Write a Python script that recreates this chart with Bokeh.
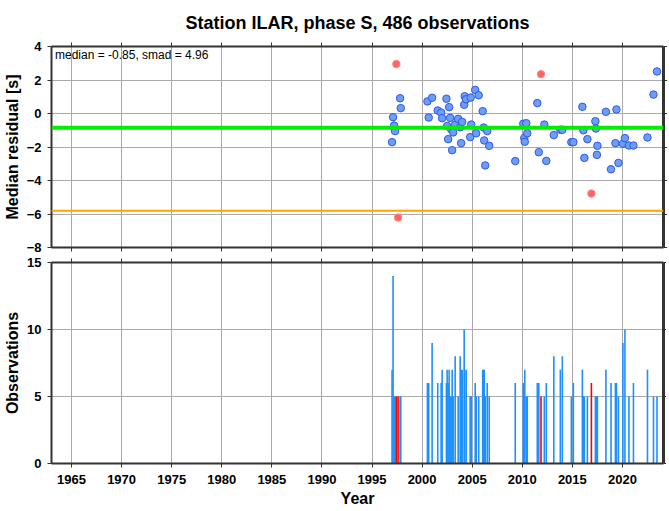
from bokeh.plotting import figure
from bokeh.models import Range1d, LinearAxis, FixedTicker, Label, Span, ColumnDataSource
from bokeh.layouts import column
from bokeh.embed import file_html
from bokeh.resources import INLINE

title_text = "Station ILAR, phase S, 486 observations"
stats_text = "median = -0.85, smad = 4.96"
median_val = -0.85
lower_val = -5.81
year_ticks = [1965, 1970, 1975, 1980, 1985, 1990, 1995, 2000, 2005, 2010, 2015, 2020]
resid_ticks = [-8, -6, -4, -2, 0, 2, 4]
obs_ticks = [0, 5, 10, 15]

event_year = [1997.00, 1997.10, 1997.20, 1997.30, 1997.43, 1997.60, 1997.80, 1997.87,
              2000.53, 2000.66, 2001.00, 2001.56, 2001.90, 2002.00, 2002.43, 2002.50,
              2002.60, 2002.70, 2002.80, 2002.90, 2003.00, 2003.10, 2003.30, 2003.60,
              2003.80, 2003.90, 2004.00, 2004.20, 2004.25, 2004.40, 2004.80, 2004.85,
              2004.90, 2005.30, 2005.40, 2005.65, 2006.05, 2006.15, 2006.20, 2006.30,
              2006.50, 2006.70, 2009.30, 2010.10, 2010.20, 2010.25, 2010.40, 2010.50,
              2011.50, 2011.65, 2011.87, 2012.20, 2012.40, 2013.15, 2013.80, 2014.00,
              2014.90, 2015.10, 2016.00, 2016.10, 2016.20, 2016.50, 2016.90, 2017.30,
              2017.35, 2017.45, 2017.50, 2018.35, 2018.86, 2019.30, 2019.40, 2019.60,
              2020.05, 2020.25, 2020.65, 2021.10, 2022.50, 2023.10, 2023.45]
event_resid = [-1.71, -0.22, -0.72, -1.05, 2.95, -6.21, 0.91, 0.32,
               0.72, -0.24, 0.94, 0.18, 0.06, -0.28, 0.88, -0.74,
               -1.53, 0.38, -0.26, -0.94, -2.19, -1.13, -0.66, -0.32,
               -0.82, -1.77, -0.50, 0.52, 1.03, 0.85, -1.41, 0.95,
               -0.66, 1.41, -1.18, 1.09, 0.14, -0.84, -1.61, -3.10,
               -1.05, -1.93, -2.84, -0.61, -1.47, -1.69, -0.58, -1.18,
               0.62, -2.31, 2.35, -0.66, -2.83, -1.29, -0.97, -0.97,
               -1.71, -1.71, 0.40, -1.00, -2.65, -1.53, -4.78, -0.46,
               -0.90, -2.47, -1.93, 0.10, -3.33, -1.77, 0.24, -2.95,
               -1.81, -1.47, -1.91, -1.91, -1.43, 1.13, 2.51]
event_nobs = [7, 14, 5, 5, 5, 5, 5, 5,
              6, 6, 9, 6, 6, 7, 6, 7,
              6, 7, 5, 5, 7, 5, 8, 5,
              8, 7, 7, 10, 7, 7, 5, 5,
              5, 6, 5, 5, 7, 7, 7, 5,
              6, 5, 6, 6, 5, 7, 5, 5,
              6, 6, 5, 5, 6, 8, 7, 8,
              5, 6, 7, 5, 5, 5, 6, 5,
              5, 5, 5, 7, 6, 6, 6, 5,
              9, 10, 5, 6, 7, 5, 5]
event_outlier = [0, 0, 0, 0, 1, 1, 0, 0,
                 0, 0, 0, 0, 0, 0, 0, 0,
                 0, 0, 0, 0, 0, 0, 0, 0,
                 0, 0, 0, 0, 0, 0, 0, 0,
                 0, 0, 0, 0, 0, 0, 0, 0,
                 0, 0, 0, 0, 0, 0, 0, 0,
                 0, 0, 1, 0, 0, 0, 0, 0,
                 0, 0, 0, 0, 0, 0, 1, 0,
                 0, 0, 0, 0, 0, 0, 0, 0,
                 0, 0, 0, 0, 0, 0, 0]

def subset(flag):
    idx = [i for i, f in enumerate(event_outlier) if f == flag]
    return ColumnDataSource(dict(
        year=[event_year[i] for i in idx],
        resid=[event_resid[i] for i in idx],
        nobs=[event_nobs[i] for i in idx],
    ))

good_src = subset(0)
bad_src = subset(1)

FONT = "Liberation Sans"
AX_COL = "#333333"
GRID_COL = "#AAAAAA"
X0, X1 = 1963.0, 2024.1


def hide_labels(a):
    a.major_label_text_color = None
    a.major_label_text_font_size = "1px"
    a.major_label_standoff = 0


def style(p, yticks, show_xlabels, ylabel):
    p.outline_line_color = None
    p.xgrid.ticker = FixedTicker(ticks=year_ticks)
    p.ygrid.ticker = FixedTicker(ticks=yticks)
    for g in (p.xgrid, p.ygrid):
        g.grid_line_color = GRID_COL
        g.grid_line_width = 1
    xa = p.xaxis[0]
    ya = p.yaxis[0]
    xa.ticker = FixedTicker(ticks=year_ticks)
    ya.ticker = FixedTicker(ticks=yticks)
    for a in (xa, ya):
        a.axis_line_color = AX_COL
        a.axis_line_width = 2
        a.major_tick_line_color = AX_COL
        a.major_tick_out = 4
        a.major_tick_in = 0
        a.minor_tick_line_color = None
        a.major_label_text_font = FONT
        a.major_label_text_font_style = "bold"
        a.major_label_text_font_size = "13px"
        a.major_label_text_color = "black"
        a.major_label_standoff = 6
        a.axis_label_text_font = FONT
        a.axis_label_text_font_style = "bold"
        a.axis_label_text_font_size = "16px"
        a.axis_label_text_color = "black"
    ya.axis_label = ylabel
    ya.axis_label_standoff = 3
    if show_xlabels:
        xa.axis_label = "Year"
        xa.axis_label_standoff = 3
        xa.major_label_standoff = 7
    else:
        hide_labels(xa)
    top = LinearAxis(ticker=FixedTicker(ticks=year_ticks))
    right = LinearAxis(ticker=FixedTicker(ticks=yticks))
    for a, w in ((top, 2), (right, 3)):
        a.axis_line_color = AX_COL
        a.axis_line_width = w
        a.major_tick_line_color = AX_COL
        a.major_tick_out = 4
        a.major_tick_in = 0
        a.minor_tick_line_color = None
        hide_labels(a)
    p.add_layout(top, "above")
    p.add_layout(right, "right")


p1 = figure(frame_width=612, frame_height=201, x_range=Range1d(X0, X1),
            y_range=Range1d(-8, 4), output_backend="svg", toolbar_location=None,
            min_border_left=43, min_border_right=4, min_border_top=46,
            min_border_bottom=7, title=title_text)
p1.title.text_font = FONT
p1.title.text_font_size = "18px"
p1.title.text_font_style = "bold"
p1.title.text_color = "black"
p1.title.align = "center"
p1.title.standoff = 20
style(p1, resid_ticks, False, "Median residual [s]")

p1.add_layout(Span(location=median_val, dimension="width", line_color="#00EE00", line_width=4))
p1.add_layout(Span(location=lower_val, dimension="width", line_color="#FFA500", line_width=2))
p1.scatter("year", "resid", source=good_src, size=7.5, fill_color="#6A9FF2",
           line_color="#3355EE", line_width=1)
p1.scatter("year", "resid", source=bad_src, size=7.5, fill_color="#FF6464",
           line_color="#FF8A8A", line_width=1)
p1.add_layout(Label(x=X0 + 0.35, y=3.9, text=stats_text, text_baseline="top",
                    text_font=FONT, text_font_size="12px", text_color="black"))

p2 = figure(frame_width=612, frame_height=201, x_range=p1.x_range,
            y_range=Range1d(0, 15), output_backend="svg", toolbar_location=None,
            min_border_left=43, min_border_right=4, min_border_top=8,
            min_border_bottom=46)
style(p2, obs_ticks, True, "Observations")
p2.vbar(x="year", top="nobs", width=0.16, bottom=0, source=good_src,
        fill_color="#1E90FF", line_color=None)
p2.vbar(x="year", top="nobs", width=0.16, bottom=0, source=bad_src,
        fill_color="#FF0000", line_color=None)

layout = column(p1, p2, spacing=0)
open("out.html", "w").write(file_html(layout, INLINE))
